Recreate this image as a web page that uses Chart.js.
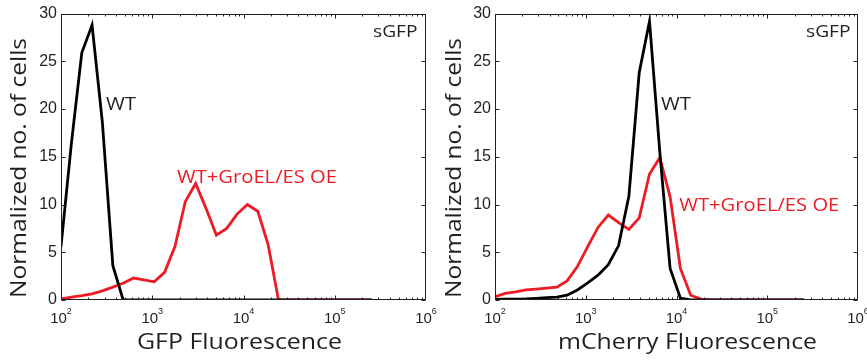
<!DOCTYPE html>
<html>
<head>
<meta charset="utf-8">
<script src="https://cdn.jsdelivr.net/npm/chart.js@4.4.1/dist/chart.umd.min.js"></script>
<style>
  body { margin: 0; background: #fff; }
  #wrap { position: relative; width: 867px; height: 360px; overflow: hidden; }
  #gfpChart { position: absolute; left: 0; top: 0; }
  #cherryChart { position: absolute; left: 440px; top: 0; }
</style>
</head>
<body>
<div id="wrap">
  <canvas id="gfpChart" width="440" height="360"></canvas>
  <canvas id="cherryChart" width="427" height="360"></canvas>
</div>
<script>
// histogram bin centres (fluorescence, a.u.)
var binCentres = [100, 130, 169, 219, 284, 370, 480, 623, 809, 1051, 1365, 1773, 2301, 2989, 3882, 5041,
  6546, 8502, 11041, 14338, 18621, 24183, 31405, 40785, 52966, 68785, 89330, 116000, 150700, 195700, 254100];

// left panel: GFP channel
var gfpWT = [5.6, 16.4, 25.9, 28.8, 18.6, 3.6, 0, 0, 0, 0, 0, 0, 0, 0, 0, 0,
  0, 0, 0, 0, 0, 0, 0, 0, 0, 0, 0, 0, 0, 0, 0];
var gfpOE = [0.1, 0.3, 0.45, 0.65, 0.95, 1.35, 1.75, 2.3, 2.1, 1.9, 2.9, 5.6, 10.3, 12.2, 9.6, 6.8,
  7.5, 9.0, 10.0, 9.3, 5.8, 0, 0, 0, 0, 0, 0, 0, 0, 0, 0];

// right panel: mCherry channel
var cherryWT = [0.05, 0.08, 0.1, 0.12, 0.18, 0.25, 0.3, 0.5, 1.05, 1.8, 2.6, 3.7, 5.7, 10.9, 23.8, 29.2,
  15.5, 3.3, 0.2, 0, 0, 0, 0, 0, 0, 0, 0, 0, 0, 0, 0];
var cherryOE = [0.35, 0.7, 0.85, 1.05, 1.15, 1.25, 1.35, 2.0, 3.5, 5.6, 7.6, 8.9, 8.1, 7.4, 8.6, 13.2,
  14.9, 10.8, 3.3, 0.5, 0.1, 0, 0, 0, 0, 0, 0, 0, 0, 0, 0];

var yTicks = [0, 5, 10, 15, 20, 25, 30];
var xTickExponents = [2, 3, 4, 5, 6];

var INK = '#231f20';
var RED = '#ed1c24';
var TITLE_FONT = '"Open Sans", "DejaVu Sans", sans-serif';
var TICK_FONT = '"Liberation Sans", Arial, sans-serif';

function pairs(values) {
  return binCentres.map(function (x, i) { return { x: x, y: values[i] }; });
}

// text drawn at a given font size and stretched to a given width
function fitText(ctx, text, x, y, size, width, color, rotate) {
  ctx.save();
  ctx.font = size + 'px ' + TITLE_FONT;
  ctx.fillStyle = color;
  ctx.textAlign = 'left';
  ctx.textBaseline = 'alphabetic';
  var w = ctx.measureText(text).width;
  ctx.translate(x, y);
  if (rotate) ctx.rotate(-Math.PI / 2);
  ctx.scale(width / w, 1);
  ctx.fillText(text, 0, 0);
  ctx.restore();
}

var panelDecor = {
  id: 'panelDecor',
  afterDraw: function (chart, args, o) {
    var ctx = chart.ctx, a = chart.chartArea;
    var xs = chart.scales.x, ys = chart.scales.y;
    ctx.save();
    ctx.strokeStyle = INK;
    ctx.lineWidth = 1;
    var L = Math.round(a.left) + 0.5, R = Math.round(a.right) - 0.5;
    var T = Math.round(a.top) + 0.5, B = Math.round(a.bottom) - 0.5;
    ctx.strokeRect(L, T, R - L, B - T);

    ctx.beginPath();
    yTicks.forEach(function (v) {
      var py = Math.round(ys.getPixelForValue(v)) + 0.5;
      ctx.moveTo(L, py); ctx.lineTo(L + 4, py);
      ctx.moveTo(R, py); ctx.lineTo(R - 4, py);
    });
    for (var e = 2; e < 6; e++) {
      for (var m = 1; m <= 9; m++) {
        var px = Math.round(xs.getPixelForValue(m * Math.pow(10, e))) + 0.5;
        var len = m === 1 ? 4 : 2;
        ctx.moveTo(px, B); ctx.lineTo(px, B - len);
        ctx.moveTo(px, T); ctx.lineTo(px, T + len);
      }
    }
    ctx.stroke();

    // x tick labels 10^n
    ctx.fillStyle = INK;
    ctx.textBaseline = 'alphabetic';
    ctx.textAlign = 'left';
    xTickExponents.forEach(function (n) {
      var px = xs.getPixelForValue(Math.pow(10, n));
      ctx.font = '15px ' + TICK_FONT;
      var w1 = ctx.measureText('10').width;
      ctx.font = '9px ' + TICK_FONT;
      var w2 = ctx.measureText(String(n)).width;
      var x0 = px - (w1 + w2) / 2;
      ctx.font = '15px ' + TICK_FONT;
      ctx.fillText('10', x0, 322.5);
      ctx.font = '9px ' + TICK_FONT;
      ctx.fillText(String(n), x0 + w1, 314);
    });
    ctx.restore();

    fitText(ctx, o.xTitle, o.xTitleX, 348.5, 22, o.xTitleW, INK, false);
    fitText(ctx, 'Normalized no. of cells', o.yTitleX, 298, 22, 260, INK, true);
    fitText(ctx, 'sGFP', o.tagX, 36.8, 17, 44.5, INK, false);
    fitText(ctx, 'WT', o.wtX, 110, 18.5, 30, INK, false);
    fitText(ctx, 'WT+GroEL/ES OE', o.oeX, o.oeY, 18.5, 160, RED, false);
  }
};

function makePanel(id, wt, oe, yWidth, padRight, decor) {
  return new Chart(document.getElementById(id), {
    type: 'line',
    data: {
      datasets: [
        { label: 'WT', data: pairs(wt), borderColor: '#000', borderWidth: 2.8, pointRadius: 0, tension: 0 },
        { label: 'WT+GroEL/ES OE', data: pairs(oe), borderColor: RED, borderWidth: 2.8, pointRadius: 0, tension: 0 }
      ]
    },
    options: {
      responsive: false,
      animation: false,
      devicePixelRatio: 1,
      layout: { padding: { left: 0, right: padRight, top: 13, bottom: 0 } },
      scales: {
        x: {
          type: 'logarithmic',
          min: 100,
          max: 1000000,
          grid: { display: false, drawTicks: false },
          border: { display: false },
          ticks: { display: false },
          afterFit: function (s) { s.height = 60; }
        },
        y: {
          min: 0,
          max: 30,
          afterBuildTicks: function (s) { s.ticks = yTicks.map(function (v) { return { value: v }; }); },
          grid: { display: false, drawTicks: false },
          border: { display: false },
          ticks: { color: INK, padding: 4, font: { family: TICK_FONT, size: 16 } },
          afterFit: function (s) { s.width = yWidth; }
        }
      },
      plugins: {
        legend: { display: false },
        tooltip: { enabled: false },
        panelDecor: decor
      }
    },
    plugins: [panelDecor]
  });
}

makePanel('gfpChart', gfpWT, gfpOE, 61, 14, {
  xTitle: 'GFP Fluorescence', xTitleX: 137, xTitleW: 205,
  yTitleX: 26, tagX: 373, wtX: 106, oeX: 177, oeY: 183.3
});
makePanel('cherryChart', cherryWT, cherryOE, 55, 9, {
  xTitle: 'mCherry Fluorescence', xTitleX: 118, xTitleW: 259,
  yTitleX: 21, tagX: 366, wtX: 221, oeX: 239.3, oeY: 210.7
});
</script>
</body>
</html>
